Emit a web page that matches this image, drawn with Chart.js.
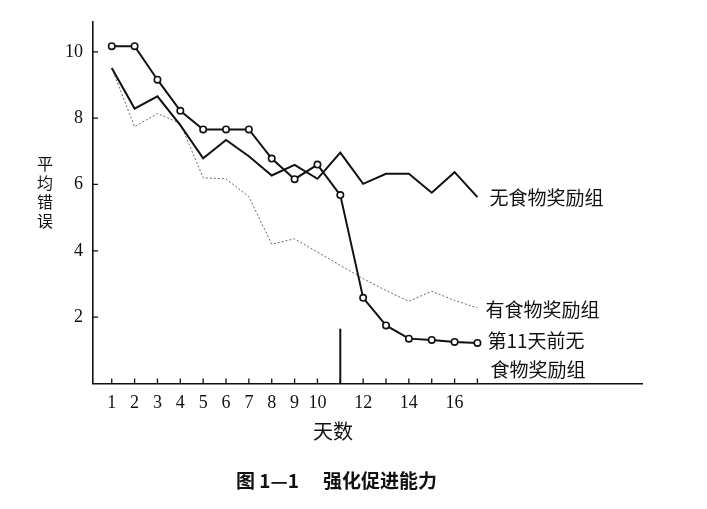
<!DOCTYPE html>
<html>
<head>
<meta charset="utf-8">
<script src="https://cdn.jsdelivr.net/npm/chart.js@4/dist/chart.umd.min.js"></script>
<style>
  body { margin: 0; background: #fff; }
  #wrap { width: 707px; height: 509px; }
</style>
</head>
<body>
<div id="wrap"><canvas id="id_canv" width="707" height="509"></canvas></div>
<script>
// days on the x axis, only some get a label
const days = [1, 2, 3, 4, 5, 6, 7, 8, 9, 10, 11, 12, 13, 14, 15, 16, 17]
const dayLabels = [1, 2, 3, 4, 5, 6, 7, 8, 9, 10, 12, 14, 16]
const errTicks = [2, 4, 6, 8, 10]

// mean errors
const noFood = [9.51, 8.29, 8.66, 7.79, 6.79, 7.34, 6.85, 6.27, 6.59, 6.17, 6.96, 6.02, 6.32, 6.32, 5.75, 6.37, 5.62]
const withFood = [9.51, 7.74, 8.14, 7.84, 6.2, 6.17, 5.63, 4.2, 4.36, 3.96, 3.56, 3.16, 2.8, 2.48, 2.78, 2.5, 2.28]
const foodFrom11 = [10.17, 10.17, 9.16, 8.22, 7.66, 7.66, 7.66, 6.78, 6.16, 6.6, 5.68, 2.58, 1.75, 1.35, 1.31, 1.25, 1.22]

const switchDay = 11
const ink = '#111'
const cjk = '"Noto Sans CJK SC", sans-serif'
const serif = '"Liberation Serif", "DejaVu Serif", serif'

function pts(arr) {
  return days.map((d, i) => ({ x: d, y: arr[i] }))
}

// labels next to the end of each line, two lines for the last one
const lineLabels = [
  { ds: 0, lines: ['无食物奖励组'], dx: 12, dy: 1 },
  { ds: 1, lines: ['有食物奖励组'], dx: 8, dy: 2 },
  { ds: 2, lines: ['第11天前无', '食物奖励组'], dx: 10, dy: -2 },
]

/* draws inward tick marks, the day-11 marker and all free text */
const decor = {
  id: 'decor',
  afterDraw(chart) {
    const c = chart.ctx
    const xs = chart.scales.x
    const ys = chart.scales.y
    const a = chart.chartArea
    c.save()
    c.strokeStyle = ink
    c.lineWidth = 1.3
    c.beginPath()
    days.forEach((d) => {
      const px = xs.getPixelForValue(d)
      c.moveTo(px, a.bottom)
      c.lineTo(px, a.bottom - 5)
    })
    errTicks.forEach((v) => {
      const py = ys.getPixelForValue(v)
      c.moveTo(a.left, py)
      c.lineTo(a.left + 5, py)
    })
    c.stroke()

    // marker where food was introduced
    const mx = xs.getPixelForValue(switchDay)
    c.lineWidth = 2
    c.beginPath()
    c.moveTo(mx, a.bottom)
    c.lineTo(mx, ys.getPixelForValue(1.65))
    c.stroke()

    c.fillStyle = ink
    c.textBaseline = 'middle'
    c.textAlign = 'left'
    c.font = '19px ' + cjk
    lineLabels.forEach((lb) => {
      const meta = chart.getDatasetMeta(lb.ds)
      const last = meta.data[meta.data.length - 1]
      lb.lines.forEach((t, i) => {
        c.fillText(t, last.x + lb.dx + (i ? 3 : 0), last.y + lb.dy + i * 29)
      })
    })

    // axis titles
    c.textAlign = 'center'
    c.font = '20px ' + cjk
    c.fillText('天数', 333, 431)
    c.font = '16px ' + cjk
    ;['平', '均', '错', '误'].forEach((ch, i) => {
      c.fillText(ch, 45, 164 + i * 19)
    })

    // caption
    c.font = 'bold 19px ' + cjk
    c.textAlign = 'left'
    c.fillText('图 1—1', 236, 481)
    c.fillText('强化促进能力', 323, 481)
    c.restore()
  },
}

new Chart(document.getElementById('id_canv').getContext('2d'), {
  type: 'line',
  data: {
    datasets: [
      {
        label: '无食物奖励组',
        data: pts(noFood),
        borderColor: ink,
        borderWidth: 2,
        pointRadius: 0,
        tension: 0,
      },
      {
        label: '有食物奖励组',
        data: pts(withFood),
        borderColor: '#666',
        borderWidth: 1,
        borderDash: [2, 2],
        pointRadius: 0,
        tension: 0,
      },
      {
        label: '第11天前无食物奖励组',
        data: pts(foodFrom11),
        borderColor: ink,
        borderWidth: 2,
        pointRadius: 3.2,
        pointBorderWidth: 1.6,
        pointBackgroundColor: '#fff',
        pointBorderColor: ink,
        tension: 0,
      },
    ],
  },
  options: {
    responsive: false,
    animation: false,
    events: [],
    layout: { padding: { left: 63, right: 65, top: 22, bottom: 94 } },
    plugins: {
      legend: { display: false },
      tooltip: { enabled: false },
    },
    scales: {
      x: {
        type: 'linear',
        min: 0.18,
        max: 24.2,
        afterBuildTicks: (s) => { s.ticks = days.map((v) => ({ value: v })) },
        grid: { display: false },
        border: { display: true, color: ink, width: 1.6 },
        ticks: {
          autoSkip: false,
          maxRotation: 0,
          padding: 1,
          color: ink,
          font: { family: serif, size: 18 },
          callback: (v) => (dayLabels.includes(v) ? String(v) : ''),
        },
      },
      y: {
        min: 0,
        max: 10.9,
        afterBuildTicks: (s) => { s.ticks = errTicks.map((v) => ({ value: v })) },
        grid: { display: false },
        border: { display: true, color: ink, width: 1.6 },
        ticks: {
          padding: 2,
          color: ink,
          font: { family: serif, size: 18 },
        },
      },
    },
  },
  plugins: [decor],
})
</script>
</body>
</html>
